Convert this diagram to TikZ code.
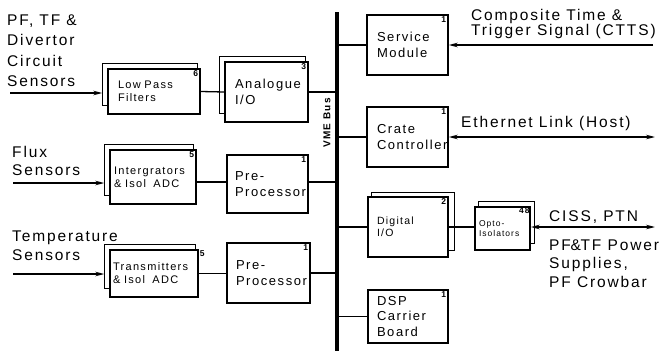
\documentclass[tikz,border=0pt]{standalone}
\usepackage{fontspec}
\setmainfont{Liberation Sans}[LetterSpace=12]
\usetikzlibrary{arrows.meta,calc}
\hyphenpenalty=10000
\exhyphenpenalty=10000
\begin{document}
\begin{tikzpicture}[x=1pt,y=-1pt,
  box/.style={draw,line width=1.5pt,fill=white,rectangle,inner sep=0pt,align=left},
  big/.style={font=\fontsize{13}{15.5}\selectfont},
  small/.style={font=\fontsize{11}{13}\selectfont},
  conn/.style={line width=1.3pt},
  card/.style={line width=1.3pt},
  arr/.style={line width=1.3pt,-{Stealth[length=9pt,width=4.5pt,inset=3pt]}},
  darr/.style={line width=1.3pt,{Stealth[length=9pt,width=4.5pt,inset=3pt]}-{Stealth[length=9pt,width=4.5pt,inset=3pt]}},
  lbl/.style={font=\fontsize{15.5}{18}\selectfont,align=left,inner sep=0pt,anchor=west},
  num/.style={font=\bfseries\fontsize{8.5}{9}\selectfont,inner sep=2.5pt,anchor=north east},
]
\useasboundingbox (0,0) rectangle (662,351);

% bus
\coordinate (bt) at (337,12);
\coordinate (bb) at (337,351);
\draw[line width=3.5pt] (bt) -- (bb);
\node[rotate=90,font=\bfseries\fontsize{10}{10}\selectfont,inner sep=0pt] (vme) at (327,123) {VME Bus};

% left column boxes
\node[box,small,minimum width=92pt,minimum height=45pt,text width=72pt] (lpf) at (154,91.5) {Low Pass\\Filters};
\node[box,big,minimum width=83pt,minimum height=60pt,text width=63pt] (ana) at (266.5,92) {Analogue\\I/O};
\node[box,small,minimum width=86pt,minimum height=54pt,text width=78pt] (integ) at (153,177) {Intergrators\\\& Isol\ \ ADC};
\node[box,big,minimum width=81pt,minimum height=58pt,text width=65pt] (pre1) at (267.5,184) {Pre-\\Processor};
\node[box,small,minimum width=88pt,minimum height=47pt,text width=82pt] (trans) at (154,273.5) {Transmitters\\\& Isol\ \ ADC};
\node[box,big,minimum width=83pt,minimum height=60pt,text width=65pt] (pre2) at (268.5,273) {Pre-\\Processor};

% right column boxes
\node[box,big,minimum width=81pt,minimum height=60pt,text width=61pt] (svc) at (407.5,45) {Service\\Module};
\node[box,big,minimum width=81pt,minimum height=60pt,text width=61pt] (crate) at (407.5,137) {Crate\\Controller};
\node[box,font=\fontsize{10.5}{12}\selectfont,minimum width=80pt,minimum height=60pt,text width=62pt] (dig) at (408,227) {Digital\\I/O};
\node[box,big,minimum width=80pt,minimum height=53pt,text width=62pt] (dsp) at (408,316.5) {DSP\\Carrier\\Board};
\node[box,font=\fontsize{8.5}{10}\selectfont,minimum width=55pt,minimum height=43pt,text width=47pt] (opto) at (502.5,228.5) {Opto-\\Isolators};

% stacked back cards (up-left)
\foreach \b in {lpf,ana,integ,trans}{
  \draw[card] ([yshift=9pt]\b.south west) -- ++(-5pt,0) |- ([xshift=-3pt,yshift=5pt]\b.north east) -- ([xshift=-3pt]\b.north east);
}
% stacked back cards (up-right)
\draw[card] ([xshift=4pt]dig.north west) -- ++(0,4pt) -| ([xshift=6pt,yshift=7pt]dig.south east) -- ([yshift=7pt]dig.south east);
\draw[card] ([xshift=4pt]opto.north west) -- ++(0,5pt) -| ([xshift=4pt,yshift=7pt]opto.south east) -- ([yshift=7pt]opto.south east);

% counts
\node[num] (c1) at (lpf.north east) {6};
\node[num] (c2) at (ana.north east) {3};
\node[num] (c3) at (integ.north east) {5};
\node[num] (c4) at (pre1.north east) {1};
\node[num,anchor=north west,inner sep=1pt] (c5) at (trans.north east) {5};
\node[num] (c6) at (pre2.north east) {1};
\node[num] (c7) at (svc.north east) {1};
\node[num] (c8) at (crate.north east) {1};
\node[num] (c9) at (dig.north east) {2};
\node[num] (c10) at (dsp.north east) {1};
\node[num,inner sep=1pt] (c11) at (opto.north east) {48};

% connectors
\draw[conn] (lpf.east) -- (ana.west);
\draw[conn] (ana.east) -- (ana.east -| bt);
\coordinate (r2) at (0,182);
\draw[conn] (integ.east |- r2) -- (pre1.west |- r2);
\draw[conn] (pre1.east |- r2) -- (bt |- r2);
\draw[conn] (trans.east) -- (pre2.west |- trans.east);
\draw[conn] (pre2.east) -- (pre2.east -| bt);
\draw[conn] (bt |- svc.west) -- (svc.west);
\draw[conn] (bt |- crate.west) -- (crate.west);
\draw[conn] (bt |- dig.west) -- (dig.west);
\draw[conn] (bt |- dsp.west) -- (dsp.west);
\draw[conn] (dig.east) -- (opto.west |- dig.east);

% inputs
\coordinate (i1) at (10,93);
\coordinate (i2) at (13,183);
\coordinate (i3) at (13,274);
\draw[arr] (i1) -- ([xshift=-5pt]lpf.west |- i1);
\draw[arr] (i2) -- ([xshift=-5pt]integ.west |- i2);
\draw[arr] (i3) -- ([xshift=-5pt]trans.west |- i3);

% outputs
\coordinate (o1) at (653,45);
\coordinate (o2) at (655,137);
\coordinate (o3) at (655,227);
\draw[arr] (o1) -- (svc.east);
\draw[darr] (crate.east) -- (o2);
\draw[darr] (opto.east |- dig.east) -- (o3);

% labels
\node[lbl,font=\fontsize{15.5}{20.5}\selectfont] (l1) at (7,50.5) {PF, TF \&\\Divertor\\Circuit\\Sensors};
\node[lbl,font=\fontsize{15.5}{18}\selectfont] (l2) at (12,161) {Flux\\Sensors};
\node[lbl,font=\fontsize{15.5}{19}\selectfont] (l3) at (12,245.5) {Temperature\\Sensors};
\node[lbl,font=\fontsize{15.5}{15}\selectfont] (t1) at (471,23.5) {Composite Time \&\\Trigger Signal (CTTS)};
\node[lbl] (t2) at (461,123) {Ethernet Link (Host)};
\node[lbl] (t3) at (549,217) {CISS, PTN};
\node[lbl,font=\fontsize{15.5}{18.5}\selectfont] (t4) at (549,263.5) {PF\kern-0.3pt\&\kern-0.3pt TF Power\\Supplies,\\PF Crowbar};
\end{tikzpicture}
\end{document}
